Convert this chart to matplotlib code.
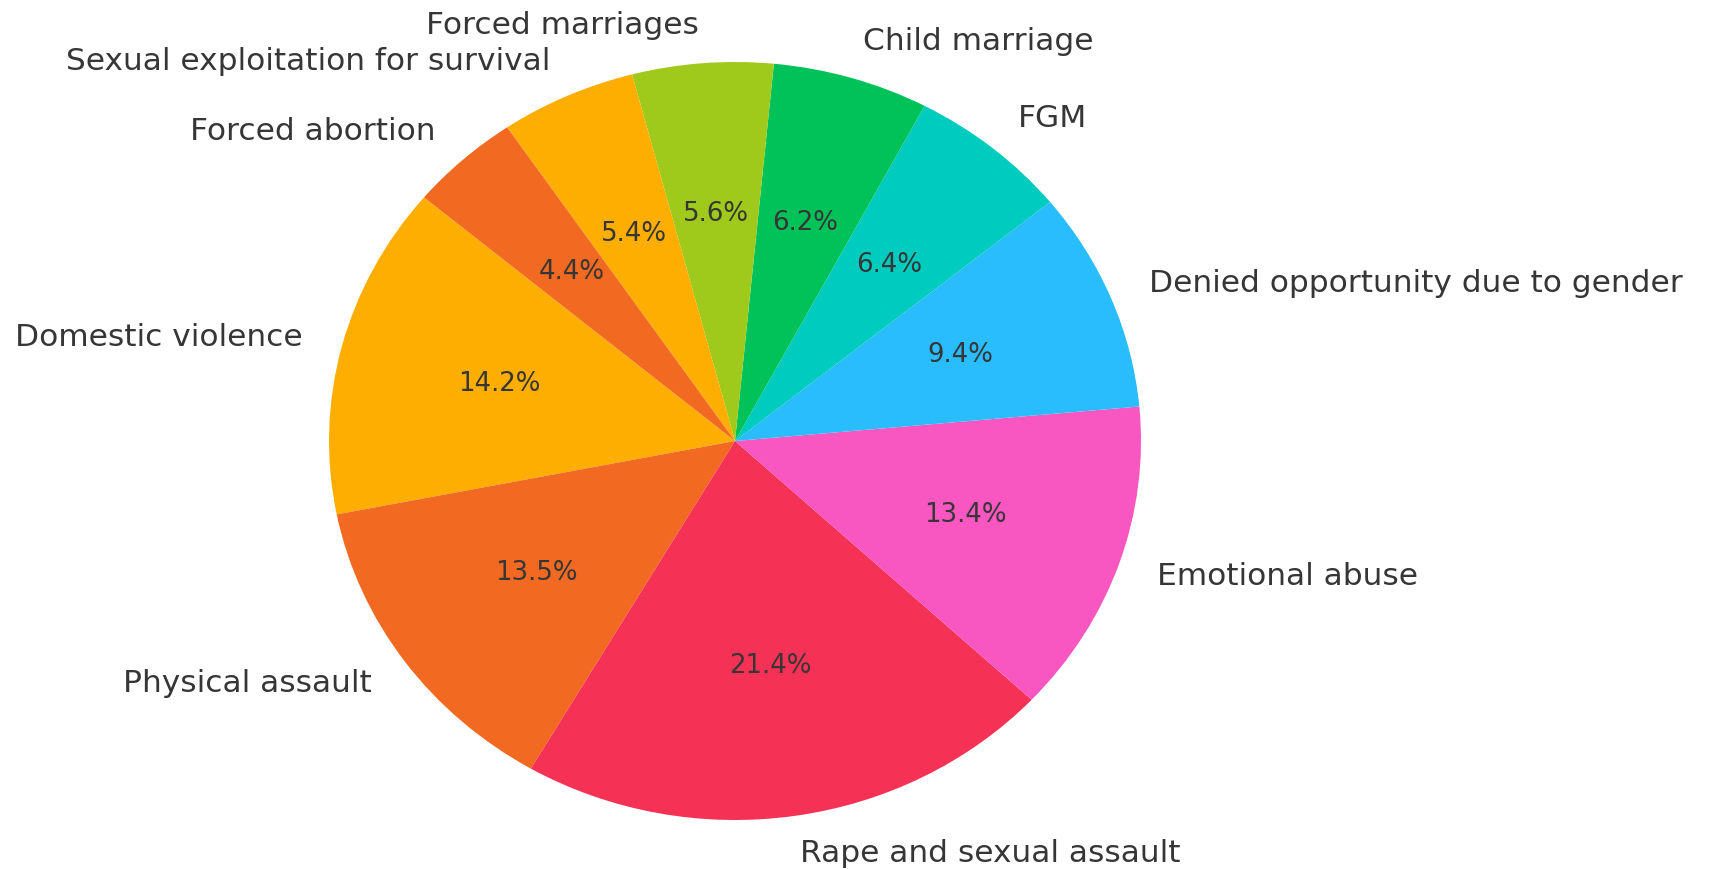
import matplotlib
matplotlib.use("Agg")
import matplotlib.pyplot as plt

# data (percent of reported cases), counterclockwise from 140 deg
labels = ['Domestic violence', 'Physical assault', 'Rape and sexual assault',
          'Emotional abuse', 'Denied opportunity due to gender', 'FGM',
          'Child marriage', 'Forced marriages',
          'Sexual exploitation for survival', 'Forced abortion']
values = [14.2, 13.5, 21.4, 13.4, 9.4, 6.4, 6.2, 5.6, 5.4, 4.4]
colors = ['#FEAE00', '#F26A21', '#F53255', '#F857C1', '#29BDFD',
          '#00CBBF', '#01C159', '#9FCA1C', '#FEAE00', '#F26A21']

W, H = 1710, 869
fig = plt.figure(figsize=(W / 100, H / 100), dpi=100)

# pie centre and radii in pixels (the reference pie is slightly elliptical)
cx, cy, rx, ry = 735, 441, 406, 379
ax = fig.add_axes([(cx - rx) / W, (H - cy - ry) / H, 2 * rx / W, 2 * ry / H])

wedges, texts, autotexts = ax.pie(values, labels=labels, colors=colors,
                                  autopct='%1.1f%%', startangle=140,
                                  labeldistance=1.1, pctdistance=0.6,
                                  wedgeprops={'linewidth': 0})
for t in texts:
    t.set_fontsize(22.5)
    t.set_color('#363636')
for t in autotexts:
    t.set_fontsize(18.7)
    t.set_color('#363636')

ax.set_aspect('auto')
ax.set_xlim(-1, 1)
ax.set_ylim(-1, 1)

fig.savefig('out.png', dpi=100)
